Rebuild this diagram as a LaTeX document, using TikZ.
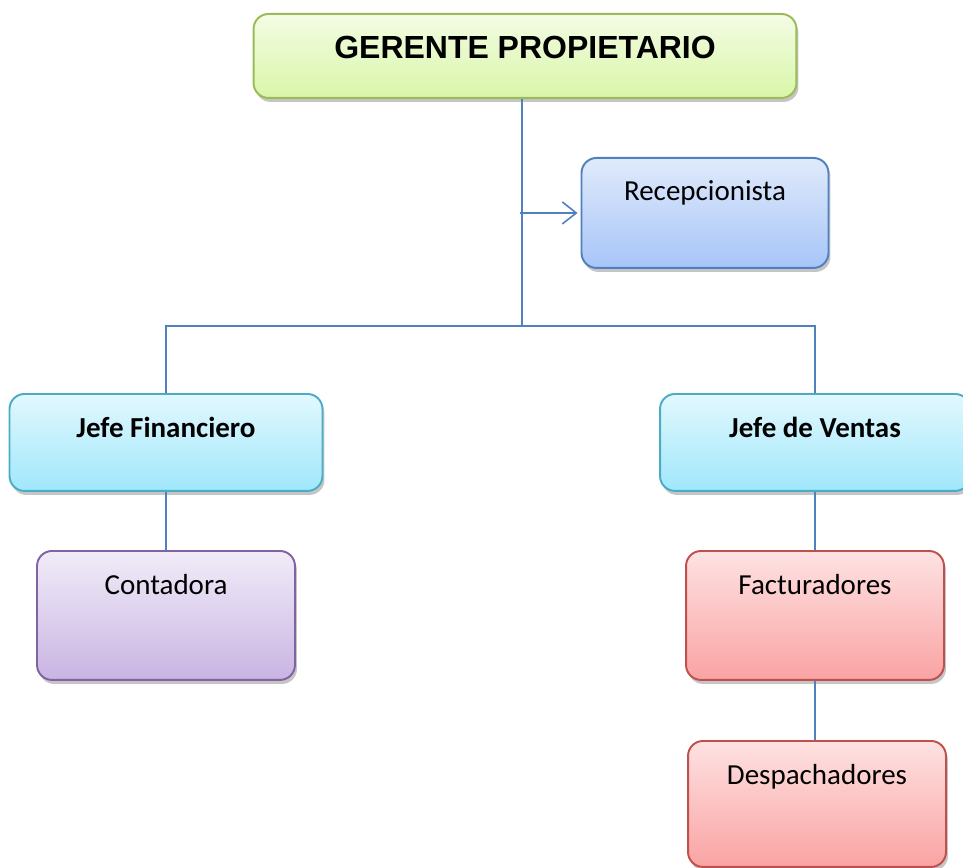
\documentclass[tikz,border=0pt]{standalone}
\usepackage{fontspec}
\setmainfont{Carlito}
\newfontfamily\headfont{Liberation Sans}
\usetikzlibrary{shapes,arrows.meta,positioning,calc,shadows}

\definecolor{lineblue}{HTML}{4F81BD}
\definecolor{gerdraw}{HTML}{9BBB59}
\definecolor{gertop}{HTML}{F3FCE4}
\definecolor{gerbot}{HTML}{D9F6A8}
\definecolor{recdraw}{HTML}{4F81BD}
\definecolor{rectop}{HTML}{E0EAFB}
\definecolor{recbot}{HTML}{A7C5F8}
\definecolor{jefdraw}{HTML}{4BACC6}
\definecolor{jeftop}{HTML}{E2F8FE}
\definecolor{jefbot}{HTML}{A0E7FB}
\definecolor{condraw}{HTML}{8064A2}
\definecolor{contop}{HTML}{F1ECF8}
\definecolor{conbot}{HTML}{C9B4E3}
\definecolor{facdraw}{HTML}{C0504D}
\definecolor{factop}{HTML}{FEE2E2}
\definecolor{facbot}{HTML}{FAA3A3}

\begin{document}
\begin{tikzpicture}[x=0.02cm, y=-0.02cm,
    card/.style={draw, line width=1.1pt, rounded corners=0.3cm, inner sep=0pt, text height=0.88cm, anchor=north,
        font=\fontsize{16.5}{20}\selectfont,
        drop shadow={shadow xshift=0.04cm, shadow yshift=-0.08cm, fill=black!45}},
    link/.style={draw=lineblue, line width=0.9pt}]
    \useasboundingbox (0,0) rectangle (963,868);

    % Top level
    \node[card, draw=gerdraw, top color=gertop, bottom color=gerbot, minimum width=10.86cm, text height=0.9cm, text depth=0.78cm, font=\headfont\bfseries\fontsize{18.2}{22}\selectfont] (ger) at (525,13) {GERENTE PROPIETARIO};
    \node[card, draw=recdraw, top color=rectop, bottom color=recbot, minimum width=4.94cm, text height=0.86cm, text depth=1.34cm] (rec) at (705,157) {Recepcionista};

    % Jefes
    \node[card, draw=jefdraw, top color=jeftop, bottom color=jefbot, minimum width=6.26cm, text depth=1.06cm, font=\bfseries\fontsize{16.5}{20}\selectfont] (fin) at (166,393) {Jefe Financiero};
    \node[card, draw=jefdraw, top color=jeftop, bottom color=jefbot, minimum width=6.2cm, text depth=1.06cm, font=\bfseries\fontsize{16.5}{20}\selectfont] (ven) at (815,393) {Jefe de Ventas};

    % Staff
    \node[card, draw=condraw, top color=contop, bottom color=conbot, minimum width=5.16cm, text depth=1.70cm] (cont) at (166,550) {Contadora};
    \node[card, draw=facdraw, top color=factop, bottom color=facbot, minimum width=5.16cm, text depth=1.70cm] (fact) at (815,550) {Facturadores};
    \node[card, draw=facdraw, top color=factop, bottom color=facbot, minimum width=5.16cm, text depth=1.64cm] (desp) at (817,740) {Despachadores};

    % Connectors
    \coordinate (split) at (522,326);
    \draw[link] (ger.south -| split) -- (split);
    \draw[link] (fin.north) |- (split) -| (ven.north);
    \draw[link, -{Straight Barb[length=0.28cm, width=0.44cm]}, shorten >=0.06cm] ([xshift=-0.04cm]split |- rec.west) -- (rec.west);
    \draw[link] (fin.south) -- (cont.north);
    \draw[link] (ven.south) -- (fact.north);
    \draw[link] (fact.south) -- (fact.south |- desp.north);
\end{tikzpicture}
\end{document}
